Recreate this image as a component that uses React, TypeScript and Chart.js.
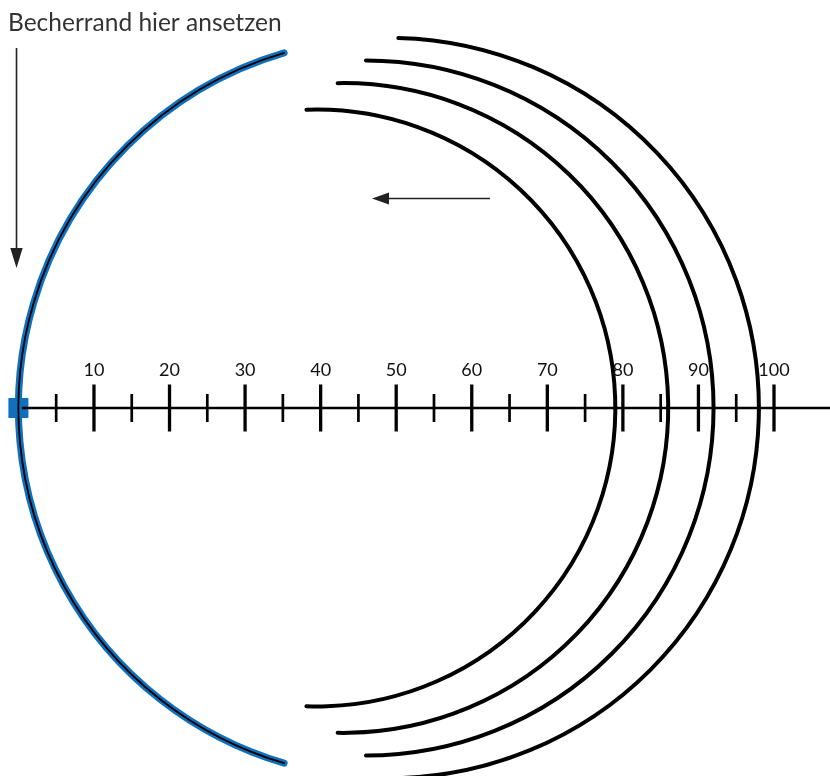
import { useEffect, useRef } from 'react';
import { Chart, registerables } from 'chart.js';

Chart.register(...registerables);

// ---- data ----
const MAJOR_TICKS = [10, 20, 30, 40, 50, 60, 70, 80, 90, 100];
const MINOR_TICKS = [5, 15, 25, 35, 45, 55, 65, 75, 85, 95];
const TICK_LABELS = ['10', '20', '30', '40', '50', '60', '70', '80', '90', '100'];
const CUP_DIAMETERS = [79, 86, 92, 98];
const ORIGIN = [0];
const AXIS_END = [110];
const TITLE = 'Becherrand hier ansetzen';

// ---- styles / layout ----
const W = 830;
const H = 776;
const PX_PER_UNIT = 7.556;
const ZERO_PX = 18.4;
const AXIS_PX = 408;
const ARC_SPANS_DEG = [92, 91, 90, 88.5];
const BLUE_FROM_DEG = 106.4;
const BLUE_TO_DEG = 253.6;
const BLUE = '#1070bd';

const arcsPlugin = {
  id: 'cupArcs',
  afterDatasetsDraw(chart: any) {
    const ctx = chart.ctx as CanvasRenderingContext2D;
    const xs = chart.scales.x;
    const ys = chart.scales.y;
    const cy = ys.getPixelForValue(0);
    ctx.save();
    ctx.lineCap = 'round';
    // black half circles
    CUP_DIAMETERS.forEach((d, i) => {
      const cx = xs.getPixelForValue(d / 2);
      const r = xs.getPixelForValue(d) - cx;
      const a = (ARC_SPANS_DEG[i] * Math.PI) / 180;
      ctx.beginPath();
      ctx.arc(cx, cy, r, -a, a, false);
      ctx.strokeStyle = '#000';
      ctx.lineWidth = 4;
      ctx.stroke();
    });
    // blue left part of the largest circle
    const dMax = Math.max(...CUP_DIAMETERS);
    const bcx = xs.getPixelForValue(dMax / 2);
    const br = xs.getPixelForValue(dMax) - bcx;
    const s = (BLUE_FROM_DEG * Math.PI) / 180;
    const e = (BLUE_TO_DEG * Math.PI) / 180;
    ctx.beginPath();
    ctx.arc(bcx, cy, br, s, e, false);
    ctx.strokeStyle = BLUE;
    ctx.lineWidth = 7;
    ctx.stroke();
    ctx.beginPath();
    ctx.arc(bcx, cy, br, s, e, false);
    ctx.strokeStyle = '#000';
    ctx.lineWidth = 1.8;
    ctx.stroke();

    // tick labels
    ctx.fillStyle = '#111';
    ctx.font = '18px Lato';
    ctx.textAlign = 'center';
    ctx.textBaseline = 'alphabetic';
    MAJOR_TICKS.forEach((v, i) => {
      ctx.fillText(TICK_LABELS[i], xs.getPixelForValue(v), cy - 32);
    });

    // arrows
    ctx.strokeStyle = '#222';
    ctx.fillStyle = '#222';
    ctx.lineWidth = 1.6;
    ctx.lineCap = 'butt';
    // vertical arrow
    ctx.beginPath();
    ctx.moveTo(16.5, 48);
    ctx.lineTo(16.5, 252);
    ctx.stroke();
    ctx.beginPath();
    ctx.moveTo(16.5, 268);
    ctx.lineTo(10.3, 248);
    ctx.lineTo(22.7, 248);
    ctx.closePath();
    ctx.fill();
    // horizontal arrow
    ctx.beginPath();
    ctx.moveTo(490, 198.5);
    ctx.lineTo(384, 198.5);
    ctx.stroke();
    ctx.beginPath();
    ctx.moveTo(372, 198.5);
    ctx.lineTo(389, 192.5);
    ctx.lineTo(389, 204.5);
    ctx.closePath();
    ctx.fill();

    // title
    ctx.fillStyle = '#333';
    ctx.font = '24.5px Lato';
    ctx.textAlign = 'left';
    ctx.fillText(TITLE, 8, 31);
    ctx.restore();
  },
};

export default function App() {
  const ref = useRef<HTMLCanvasElement | null>(null);

  useEffect(() => {
    if (!ref.current) return;
    const xMin = -ZERO_PX / PX_PER_UNIT;
    const xMax = (W - ZERO_PX) / PX_PER_UNIT;
    const yMax = AXIS_PX / PX_PER_UNIT;
    const yMin = -(H - AXIS_PX) / PX_PER_UNIT;
    const chart = new Chart(ref.current, {
      type: 'scatter',
      data: {
        datasets: [
          {
            data: [...ORIGIN, ...AXIS_END].map((v) => ({ x: v, y: 0 })),
            showLine: true,
            borderColor: '#000',
            borderWidth: 2.6,
            pointRadius: 0,
          },
          {
            data: MAJOR_TICKS.map((v) => ({ x: v, y: 0 })),
            pointStyle: 'line',
            pointRotation: 90,
            pointRadius: 23.5,
            pointBorderWidth: 3.3,
            pointBorderColor: '#000',
            pointBackgroundColor: '#000',
          },
          {
            data: MINOR_TICKS.map((v) => ({ x: v, y: 0 })),
            pointStyle: 'line',
            pointRotation: 90,
            pointRadius: 14,
            pointBorderWidth: 2.7,
            pointBorderColor: '#000',
            pointBackgroundColor: '#000',
          },
          {
            data: ORIGIN.map((v) => ({ x: v, y: 0 })),
            pointStyle: 'rect',
            pointRadius: 14.14,
            pointBorderWidth: 0,
            pointBackgroundColor: BLUE,
            pointBorderColor: BLUE,
          },
        ],
      } as any,
      options: {
        responsive: false,
        animation: false,
        events: [],
        layout: { padding: 0, autoPadding: false },
        plugins: { legend: { display: false }, tooltip: { enabled: false } },
        scales: {
          x: { type: 'linear', min: xMin, max: xMax, display: false },
          y: { type: 'linear', min: yMin, max: yMax, display: false },
        },
      } as any,
      plugins: [arcsPlugin],
    });
    return () => chart.destroy();
  }, []);

  return (
    <div style={{ position: 'fixed', left: 0, top: 0, width: W, height: H, background: '#fff' }}>
      <canvas ref={ref} width={W} height={H} style={{ width: W, height: H, display: 'block' }} />
    </div>
  );
}
